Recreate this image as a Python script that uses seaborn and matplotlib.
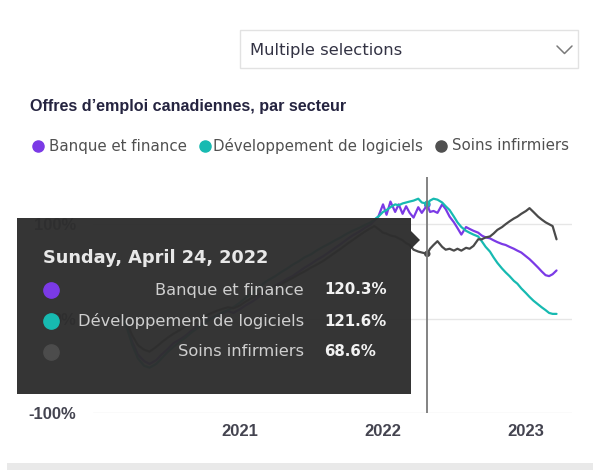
import matplotlib
matplotlib.use("Agg")
import matplotlib.pyplot as plt
import matplotlib.dates as mdates
from matplotlib.patches import Rectangle, Polygon
from matplotlib.lines import Line2D
import pandas as pd
import seaborn as sns

# ---------------- data ----------------
dates = [
    "2020-02-01", "2020-02-15", "2020-03-01", "2020-03-15", "2020-04-01", "2020-04-15",
    "2020-05-01", "2020-05-15", "2020-06-01", "2020-06-15", "2020-07-01", "2020-07-15",
    "2020-08-01", "2020-08-15", "2020-09-01", "2020-09-15", "2020-10-01", "2020-10-15",
    "2020-11-01", "2020-11-15", "2020-12-01", "2020-12-15",
    "2021-01-01", "2021-01-15", "2021-02-01", "2021-02-15", "2021-03-01", "2021-03-15",
    "2021-04-01", "2021-04-15", "2021-05-01", "2021-05-15", "2021-06-01", "2021-06-15",
    "2021-07-01", "2021-07-15", "2021-08-01", "2021-08-15", "2021-09-01", "2021-09-15",
    "2021-10-01", "2021-10-15", "2021-11-01", "2021-11-15",
    "2021-12-01", "2021-12-10", "2021-12-20",
    "2022-01-01", "2022-01-10", "2022-01-20", "2022-02-01", "2022-02-10", "2022-02-20",
    "2022-03-01", "2022-03-10", "2022-03-20", "2022-04-01", "2022-04-10", "2022-04-24",
    "2022-05-01", "2022-05-10", "2022-05-20", "2022-06-01", "2022-06-10", "2022-06-20",
    "2022-07-01", "2022-07-10", "2022-07-20", "2022-08-01", "2022-08-10", "2022-08-20",
    "2022-09-01", "2022-09-10", "2022-09-20", "2022-10-01", "2022-10-10", "2022-10-20",
    "2022-11-01", "2022-11-10", "2022-11-20", "2022-12-01", "2022-12-10", "2022-12-20",
    "2023-01-01", "2023-01-10", "2023-01-20", "2023-02-01", "2023-02-10", "2023-02-20",
    "2023-03-01", "2023-03-10", "2023-03-20",
]

banque_finance = [
    0, 1, 2, -5, -25, -38, -45, -48, -44, -38, -32, -26, -22, -18, -12, -8, -4, 0, 2, 5, 8, 6,
    10, 14, 18, 22, 27, 30, 35, 38, 42, 45, 50, 54, 58, 62, 66, 70, 75, 79, 84, 88, 92, 96,
    100, 104, 108,
    121, 110, 124, 113, 121, 111, 119, 112, 107, 118, 112, 120.3,
    113, 114, 112, 121, 116, 108, 102, 96, 89, 97, 95, 93,
    91, 88, 86, 85, 83, 81, 79, 78, 76, 74, 72, 70,
    66, 63, 59, 54, 50, 46, 45, 47, 51,
]

dev_logiciels = [
    0, 1, 2, -6, -28, -42, -50, -52, -48, -42, -35, -30, -24, -20, -14, -10, -5, -1, 3, 6, 9, 12,
    17, 22, 27, 32, 37, 41, 45, 49, 53, 57, 61, 65, 68, 72, 76, 79, 83, 86, 90, 93, 96, 99,
    102, 105, 108,
    113, 115, 118, 121, 120, 122, 123, 124, 125, 127, 123, 121.6,
    125, 127, 126, 123, 119, 115, 108, 102, 97, 93, 91, 89,
    87, 82, 76, 71, 65, 59, 53, 49, 45, 40, 37, 32,
    27, 23, 19, 15, 12, 9, 6, 5, 5,
]

soins_infirmiers = [
    0, 1, 3, -2, -18, -28, -33, -35, -30, -25, -20, -16, -12, -8, -4, -1, 2, 5, 8, 10, 12, 11,
    14, 18, 22, 25, 28, 31, 34, 36, 40, 43, 47, 50, 54, 57, 61, 65, 70, 74, 79, 83, 88, 92,
    96, 98, 95,
    91, 90, 88, 87, 85, 83, 80, 78, 73, 71, 70, 68.6,
    74, 78, 82, 76, 73, 74, 72, 74, 72, 75, 74, 77,
    84, 84, 86, 87, 90, 94, 97, 100, 103, 106, 108, 111,
    114, 117, 113, 108, 105, 102, 100, 98, 84,
]

series_names = ["Banque et finance", "Développement de logiciels", "Soins infirmiers"]
series_colors = ["#7B3AE6", "#17BAB1", "#4A4A4A"]
legend_dot_colors = ["#7B3AE6", "#17BAB1", "#505050"]
tooltip_dot_colors = ["#7B3AE6", "#17BAB1", "#4C4C4C"]

title = "Offres d’emploi canadiennes, par secteur"
slicer_text = "Multiple selections"
hover_date = "2022-04-24"
tooltip_title = "Sunday, April 24, 2022"
year_ticks = ["2021-01-01", "2022-01-01", "2023-01-01"]
year_labels = ["2021", "2022", "2023"]
y_ticks = [-100, 0, 100]
y_labels = ["-100%", "0%", "100%"]

# ---------------- frame ----------------
df = pd.DataFrame({
    "date": pd.to_datetime(dates * 3),
    "value": banque_finance + dev_logiciels + soins_infirmiers,
    "secteur": [series_names[0]] * len(dates) + [series_names[1]] * len(dates)
               + [series_names[2]] * len(dates),
})

sns.set_theme(style="white")
plt.rcParams["font.family"] = ["DejaVu Sans"]

W, H = 593, 470
fig = plt.figure(figsize=(W / 100, H / 100), dpi=100)
fig.patch.set_facecolor("white")


def fx(px):
    return px / W


def fy(py):
    return 1 - py / H


# plot area in pixels
L, R, T, B = 93, 572, 177, 413
ax = fig.add_axes([fx(L), fy(B), (R - L) / W, (B - T) / H])
ax.set_facecolor("white")

palette = dict(zip(series_names, series_colors))
sns.lineplot(data=df, x="date", y="value", hue="secteur", palette=palette,
             linewidth=1.6, legend=False, ax=ax, estimator=None)

# hover markers
hov = df[df["date"] == pd.Timestamp(hover_date)]
sns.scatterplot(data=hov, x="date", y="value", hue="secteur", palette=palette,
                s=22, legend=False, ax=ax, edgecolor="none", zorder=5)
ax.axvline(pd.Timestamp(hover_date), color="#7A7A7A", lw=1.3, zorder=6)

# x scale: one year = 143 px, Jan 1 2021 at x=240 px
d2021 = mdates.date2num(pd.Timestamp("2021-01-01"))
d2023 = mdates.date2num(pd.Timestamp("2023-01-01"))
ppd = 143 / 365.25
ax.set_xlim(d2021 - (240 - L) / ppd, d2023 + (R - 526) / ppd)
ax.set_ylim(-100, 150)

ax.set_xticks([pd.Timestamp(t) for t in year_ticks])
ax.set_xticklabels(year_labels)
ax.set_yticks(y_ticks)
ax.set_yticklabels(y_labels)
ax.tick_params(axis="x", length=0, pad=8, labelsize=12, labelcolor="#444450")
ax.tick_params(axis="y", length=0, pad=12, labelsize=12, labelcolor="#444450")
for lab in ax.get_xticklabels() + ax.get_yticklabels():
    lab.set_fontweight("bold")
    lab.set_fontfamily("Liberation Sans")
ax.grid(axis="y", color="#E6E6E6", lw=1)
ax.grid(axis="x", visible=False)
for s in ax.spines.values():
    s.set_visible(False)
ax.set_xlabel("")
ax.set_ylabel("")

# ---------------- slicer box ----------------
fig.add_artist(Rectangle((fx(240), fy(68)), (578 - 240) / W, 38 / H, transform=fig.transFigure,
                         facecolor="white", edgecolor="#E2E2E2", lw=1, zorder=2))
fig.text(fx(250), fy(50), slicer_text, fontsize=11.8, color="#333344", va="center", ha="left")
fig.add_artist(Line2D([fx(557), fx(564.5), fx(572)], [fy(46), fy(53.5), fy(46)],
                      transform=fig.transFigure, color="#7A7A7A", lw=1.1))

# ---------------- title & legend ----------------
fig.text(fx(30), fy(107), title, fontsize=11.6, fontweight="bold", color="#252440",
         va="center", ha="left", family="Liberation Sans")
leg_dot_x = [38, 205, 441]
leg_txt_x = [49, 213, 452]
for dx, tx, name, col in zip(leg_dot_x, leg_txt_x, series_names, legend_dot_colors):
    fig.add_artist(Line2D([fx(dx)], [fy(146)], marker="o", ms=8, color=col, lw=0,
                          transform=fig.transFigure))
    fig.text(fx(tx), fy(146), name, fontsize=10.8, color="#505050", va="center", ha="left")

# ---------------- tooltip ----------------
tip_color = "#2E2E2E"
fig.add_artist(Rectangle((fx(17), fy(394)), (411 - 17) / W, (394 - 218) / H,
                         transform=fig.transFigure, facecolor=tip_color, alpha=0.97,
                         edgecolor="none", zorder=10))
fig.add_artist(Polygon([(fx(411), fy(231)), (fx(420), fy(240)), (fx(411), fy(249))],
                       closed=True, transform=fig.transFigure, facecolor=tip_color,
                       alpha=0.97, edgecolor="none", zorder=10))
fig.text(fx(43), fy(258), tooltip_title, fontsize=12.8, fontweight="bold", color="#E8E8E8",
         va="center", ha="left", zorder=11)
hover_vals = [banque_finance[dates.index(hover_date)],
              dev_logiciels[dates.index(hover_date)],
              soins_infirmiers[dates.index(hover_date)]]
row_y = [290, 321, 352]
for ry, name, val, col in zip(row_y, series_names, hover_vals, tooltip_dot_colors):
    fig.add_artist(Line2D([fx(51)], [fy(ry)], marker="o", ms=11, color=col, lw=0,
                          transform=fig.transFigure, zorder=11))
    fig.text(fx(304), fy(ry), name, fontsize=11.7, color="#CFCFCF", va="center", ha="right",
             zorder=11)
    fig.text(fx(324), fy(ry), f"{val:.1f}%", fontsize=10.8, fontweight="bold", color="#F2F2F2",
             va="center", ha="left", zorder=11)

# ---------------- bottom band ----------------
fig.add_artist(Rectangle((fx(7), 0), (W - 7) / W, 7 / H, transform=fig.transFigure,
                         facecolor="#E9E9E9", edgecolor="none", zorder=2))

fig.savefig("out.png", dpi=100, facecolor="white")
